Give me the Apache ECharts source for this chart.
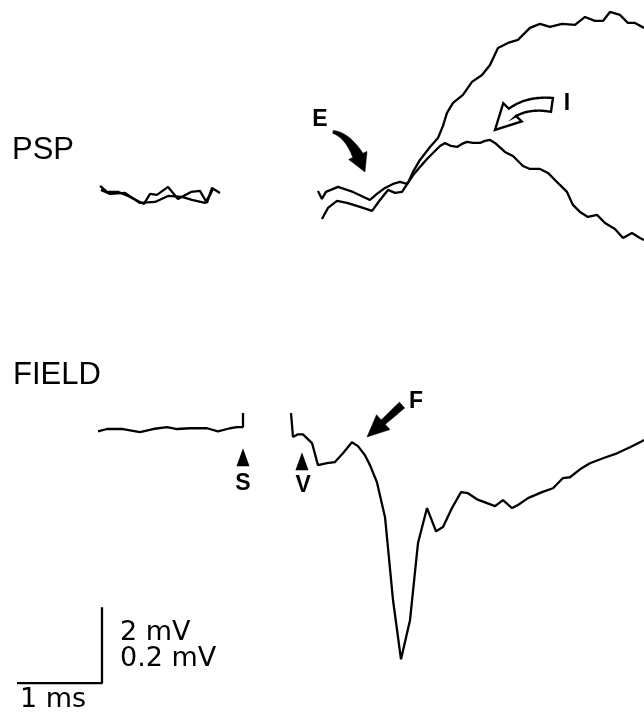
<!DOCTYPE html>
<html>
<head>
<meta charset="utf-8">
<script src="https://cdn.jsdelivr.net/npm/echarts@6/dist/echarts.min.js"></script>
<style>
html,body{margin:0;padding:0;background:#fff;}
#chart{width:644px;height:714px;}
</style>
</head>
<body>
<div id="chart"></div>
<script>
// ---- DATA (time in ms relative to stimulus S; PSP in mV; field in mV) ----
// PSP before stimulus, two superimposed sweeps
const pspPreA = [[-1.682,0.237],[-1.600,0.079],[-1.471,0.079],[-1.353,-0.026],[-1.165,-0.237],[-1.094,0.026],[-1.012,0],[-0.882,0.211],[-0.765,-0.105],[-0.612,0.079],[-0.506,0.105],[-0.424,-0.211],[-0.365,0.184],[-0.271,0.053]];
const pspPreB = [[-1.671,0.132],[-1.565,0.026],[-1.388,0.053],[-1.212,-0.211],[-1.035,-0.184],[-0.882,-0.026],[-0.718,-0.053],[-0.600,-0.132],[-0.447,-0.211],[-0.388,0],[-0.353,0.158]];
// PSP after stimulus: smaller response (peaks then declines, arrow I)
const pspPostSmall = [[0.882,0.105],[0.929,-0.105],[0.976,0.079],[1.118,0.211],[1.294,0.079],[1.494,-0.132],[1.576,0.026],[1.671,0.184],[1.765,0.289],[1.847,0.342],[1.929,0.289],[1.965,0.395],[2.012,0.553],[2.082,0.737],[2.165,0.947],[2.235,1.105],[2.318,1.289],[2.376,1.368],[2.447,1.289],[2.518,1.263],[2.576,1.342],[2.635,1.395],[2.706,1.368],[2.788,1.368],[2.847,1.421],[2.906,1.447],[2.965,1.368],[3.082,1.132],[3.176,1.026],[3.294,0.763],[3.376,0.684],[3.494,0.684],[3.588,0.579],[3.729,0.263],[3.812,0.079],[3.882,-0.263],[3.965,-0.447],[4.059,-0.579],[4.165,-0.526],[4.259,-0.737],[4.376,-0.895],[4.471,-1.132],[4.576,-1.000],[4.671,-1.132],[4.718,-1.184]];
// PSP after stimulus: larger response
const pspPostLarge = [[0.929,-0.632],[1.000,-0.342],[1.106,-0.158],[1.224,-0.211],[1.376,-0.316],[1.518,-0.421],[1.612,-0.132],[1.706,0.132],[1.788,0.053],[1.871,0.079],[1.941,0.316],[2.000,0.605],[2.082,0.921],[2.200,1.263],[2.294,1.500],[2.353,1.816],[2.400,2.158],[2.471,2.421],[2.588,2.632],[2.694,2.974],[2.812,3.158],[2.906,3.421],[3.000,3.868],[3.118,4.000],[3.235,4.079],[3.376,4.395],[3.494,4.500],[3.612,4.421],[3.753,4.500],[3.906,4.474],[4.024,4.684],[4.141,4.579],[4.235,4.579],[4.318,4.816],[4.435,4.737],[4.529,4.526],[4.612,4.526],[4.718,4.395]];
// Field potential before the stimulus artifact
const fieldPre = [[-1.706,-0.003],[-1.600,0.003],[-1.412,0.003],[-1.212,-0.005],[-1.059,0.003],[-0.894,0.008],[-0.776,0.003],[-0.624,0.005],[-0.424,0.005],[-0.294,-0.003],[-0.153,0.005],[-0.071,0.008],[0,0.008],[0,0.045]];
// Field potential after the artifact
const fieldPost = [[0.565,0.045],[0.588,-0.018],[0.647,-0.011],[0.706,-0.011],[0.812,-0.034],[0.882,-0.092],[0.988,-0.087],[1.082,-0.084],[1.176,-0.061],[1.282,-0.032],[1.353,-0.042],[1.435,-0.066],[1.494,-0.092],[1.576,-0.137],[1.671,-0.229],[1.765,-0.447],[1.859,-0.603],[1.965,-0.500],[2.059,-0.297],[2.165,-0.205],[2.271,-0.266],[2.353,-0.255],[2.459,-0.205],[2.565,-0.163],[2.647,-0.166],[2.753,-0.182],[2.871,-0.192],[2.965,-0.200],[3.059,-0.184],[3.165,-0.205],[3.235,-0.197],[3.353,-0.179],[3.518,-0.163],[3.647,-0.153],[3.765,-0.126],[3.847,-0.124],[3.965,-0.103],[4.082,-0.087],[4.235,-0.074],[4.400,-0.061],[4.553,-0.045],[4.694,-0.029],[4.718,-0.026]];
// Scale bar: 1 ms horizontal, 0.2 mV (field) vertical
const scaleBar = [[-2.659,-0.666],[-1.659,-0.666],[-1.659,-0.466]];
// Event markers (S = stimulus, V) on the field trace
const markerTriangles = [[0,-0.071],[0.694,-0.082]];
const fieldLetters = [{name:'S',value:[0,-0.142]},{name:'V',value:[0.708,-0.145]},{name:'F',value:[2.035,0.074]}];
const pspLetters = [{name:'E',value:[0.906,1.974]},{name:'I',value:[3.812,2.395]}];
// Arrows: [tail, control, tip]
const arrowE = [[1.059,1.658],[1.282,1.553],[1.435,0.605]];
const arrowI = [[3.635,2.368],[3.200,2.500],[2.965,1.711]];
const arrowF = [[1.871,0.066],[1.665,0.024],[1.459,-0.018]];
const scaleLabels = ['2 mV','0.2 mV','1 ms'];
const panelLabels = ['PSP','FIELD'];

const chart = echarts.init(document.getElementById('chart'), null, {renderer:'canvas'});

function traceSeries(data, yIdx){
  return {type:'line', data:data, xAxisIndex:0, yAxisIndex:yIdx, showSymbol:false, symbol:'none',
    lineStyle:{color:'#000', width:2.3}, silent:true, animation:false, z:3};
}

// Build a tapered (optionally curved) arrow polygon in pixel space
function arrowPolygon(p0, pc, p2, w0, w1, headLen, headHalf){
  const N = 60, pts = [], tans = [], lens = [0];
  for (let i = 0; i <= N; i++){
    const t = i / N, u = 1 - t;
    pts.push([u*u*p0[0] + 2*u*t*pc[0] + t*t*p2[0], u*u*p0[1] + 2*u*t*pc[1] + t*t*p2[1]]);
    const dx = 2*u*(pc[0]-p0[0]) + 2*t*(p2[0]-pc[0]);
    const dy = 2*u*(pc[1]-p0[1]) + 2*t*(p2[1]-pc[1]);
    const d = Math.hypot(dx, dy) || 1;
    tans.push([dx/d, dy/d]);
    if (i > 0) lens.push(lens[i-1] + Math.hypot(pts[i][0]-pts[i-1][0], pts[i][1]-pts[i-1][1]));
  }
  const total = lens[N], baseLen = Math.max(0, total - headLen);
  let k = 0; while (k < N && lens[k+1] <= baseLen) k++;
  const left = [], right = [];
  for (let i = 0; i <= k; i++){
    const f = lens[i] / (baseLen || 1), w = w0 + (w1 - w0) * f;
    const n = [-tans[i][1], tans[i][0]];
    left.push([pts[i][0] + n[0]*w, pts[i][1] + n[1]*w]);
    right.push([pts[i][0] - n[0]*w, pts[i][1] - n[1]*w]);
  }
  const seg = lens[k+1] - lens[k] || 1, r = (baseLen - lens[k]) / seg;
  const hb = [pts[k][0] + (pts[k+1][0]-pts[k][0])*r, pts[k][1] + (pts[k+1][1]-pts[k][1])*r];
  const dir = [p2[0]-hb[0], p2[1]-hb[1]], dl = Math.hypot(dir[0], dir[1]) || 1;
  const n = [-dir[1]/dl, dir[0]/dl];
  left.push([hb[0] + n[0]*w1, hb[1] + n[1]*w1]);
  right.push([hb[0] - n[0]*w1, hb[1] - n[1]*w1]);
  const poly = left.slice();
  poly.push([hb[0] + n[0]*headHalf, hb[1] + n[1]*headHalf]);
  poly.push([p2[0], p2[1]]);
  poly.push([hb[0] - n[0]*headHalf, hb[1] - n[1]*headHalf]);
  for (let i = right.length - 1; i >= 0; i--) poly.push(right[i]);
  return poly;
}

function arrowSeries(a, yIdx, o){
  return {type:'custom', xAxisIndex:0, yAxisIndex:yIdx, silent:true, animation:false, clip:false, z:6,
    data:[[a[0][0],a[0][1],a[1][0],a[1][1],a[2][0],a[2][1]]],
    encode:{x:[0,2,4], y:[1,3,5]},
    renderItem:function(params, api){
      const p0 = api.coord([api.value(0), api.value(1)]);
      const pc = api.coord([api.value(2), api.value(3)]);
      const p2 = api.coord([api.value(4), api.value(5)]);
      return {type:'polygon', shape:{points:arrowPolygon(p0, pc, p2, o.w0, o.w1, o.headLen, o.headHalf)},
        style:{fill:o.fill, stroke:'#000', lineWidth:o.lw, lineJoin:'miter'}};
    }};
}

function letterSeries(data, yIdx){
  return {type:'scatter', data:data, xAxisIndex:0, yAxisIndex:yIdx, symbolSize:1, silent:true, animation:false, z:7,
    itemStyle:{color:'rgba(0,0,0,0)', opacity:1},
    emphasis:{disabled:true},
    label:{show:true, position:'inside', formatter:'{b}', color:'#000', opacity:1, fontSize:23,
      fontFamily:'Liberation Sans', fontWeight:'bold'}};
}

const option = {
  backgroundColor:'#fff',
  animation:false,
  grid:{left:0,right:0,top:0,bottom:0,containLabel:false},
  xAxis:{type:'value', min:-2.859, max:4.718, show:false, splitLine:{show:false}},
  yAxis:[
    {type:'value', min:-13.66, max:5.13, show:false, splitLine:{show:false}},
    {type:'value', min:-0.747, max:1.132, show:false, splitLine:{show:false}}
  ],
  series:[
    traceSeries(pspPreA,0),
    traceSeries(pspPreB,0),
    traceSeries(pspPostSmall,0),
    traceSeries(pspPostLarge,0),
    traceSeries(fieldPre,1),
    traceSeries(fieldPost,1),
    traceSeries(scaleBar,1),
    {type:'scatter', data:markerTriangles, xAxisIndex:0, yAxisIndex:1, symbol:'triangle', symbolSize:[13,18],
      itemStyle:{color:'#000', opacity:1}, silent:true, animation:false},
    letterSeries(fieldLetters,1),
    letterSeries(pspLetters,0),
    arrowSeries(arrowE,0,{w0:1.5,w1:5.5,headLen:18,headHalf:10,fill:'#000',lw:0.5}),
    arrowSeries(arrowI,0,{w0:7,w1:5,headLen:25,headHalf:13,fill:'#fff',lw:2.4}),
    arrowSeries(arrowF,1,{w0:4,w1:3,headLen:22,headHalf:10,fill:'#000',lw:0.5})
  ],
  graphic:[
    {type:'text', x:12, y:150, style:{text:panelLabels[0], fontSize:31, fontFamily:'Liberation Sans', fill:'#000', verticalAlign:'middle'}},
    {type:'text', x:13, y:375, style:{text:panelLabels[1], fontSize:31, fontFamily:'Liberation Sans', fill:'#000', verticalAlign:'middle'}},
    {type:'text', x:120, y:633, style:{text:scaleLabels[0], fontSize:27, fontFamily:'DejaVu Sans', fill:'#000', verticalAlign:'middle'}},
    {type:'text', x:120, y:659, style:{text:scaleLabels[1], fontSize:27, fontFamily:'DejaVu Sans', fill:'#000', verticalAlign:'middle'}},
    {type:'text', x:20, y:700, style:{text:scaleLabels[2], fontSize:27, fontFamily:'DejaVu Sans', fill:'#000', verticalAlign:'middle'}}
  ]
};
chart.setOption(option);
</script>
</body>
</html>
